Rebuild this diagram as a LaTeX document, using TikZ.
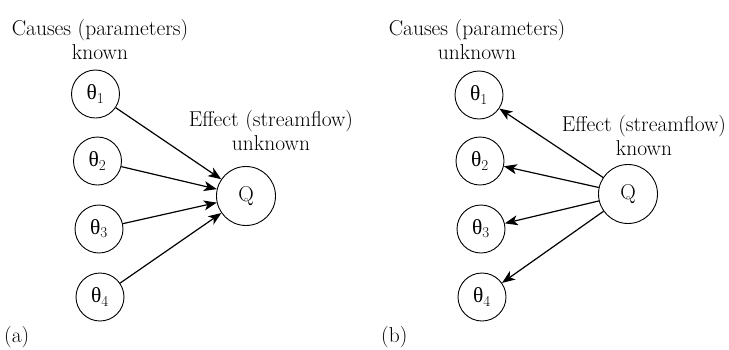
\documentclass[tikz,border=0pt]{standalone}
\usepackage{fontspec}
\newfontfamily\grkfont{Liberation Serif}
\usetikzlibrary{arrows.meta}
\newcommand{\thetasub}[1]{{\grkfont θ}\textsubscript{#1}}
\begin{document}
\begin{tikzpicture}[x=1pt, y=-1pt, font=\fontsize{21.5}{23.5}\selectfont,
    par/.style={draw, circle, line width=0.9pt, minimum size=48pt, inner sep=0pt},
    eff/.style={draw, circle, line width=0.9pt, minimum size=59pt, inner sep=0pt},
    arr/.style={-{Stealth[length=13pt, width=10pt, inset=3.5pt]}, line width=1.2pt},
    lbl/.style={align=center, inner sep=0pt},
  ]
    \useasboundingbox (0,0) rectangle (729,349);

    % (a) causes known
    \node[lbl] (causesA) at (100,39.5) {Causes (parameters)\\known};
    \node[par] (a1) at (95.5,94) {\thetasub{1}};
    \node[par] (a2) at (97.5,161) {\thetasub{2}};
    \node[par] (a3) at (99,229) {\thetasub{3}};
    \node[par] (a4) at (100,297) {\thetasub{4}};
    \node[eff] (qa) at (246,196) {Q};
    \node[lbl] (effA) at (271,130.5) {Effect (streamflow)\\unknown};
    \draw[arr] (a1) -- (qa);
    \draw[arr] (a2) -- (qa);
    \draw[arr] (a3) -- (qa);
    \draw[arr] (a4) -- (qa);
    \node[anchor=base west, inner sep=0pt] (tagA) at (4,342) {(a)};

    % (b) effect known
    \node[lbl] (causesB) at (477,39.5) {Causes (parameters)\\unknown};
    \node[par] (b1) at (479,95) {\thetasub{1}};
    \node[par] (b2) at (480,161) {\thetasub{2}};
    \node[par] (b3) at (481,229) {\thetasub{3}};
    \node[par] (b4) at (482,297) {\thetasub{4}};
    \node[eff] (qb) at (628,194) {Q};
    \node[lbl] (effB) at (644,135.5) {Effect (streamflow)\\known};
    \draw[arr] (qb) -- (b1);
    \draw[arr] (qb) -- (b2);
    \draw[arr] (qb) -- (b3);
    \draw[arr] (qb) -- (b4);
    \node[anchor=base west, inner sep=0pt] (tagB) at (381,342) {(b)};
  \end{tikzpicture}
\end{document}
